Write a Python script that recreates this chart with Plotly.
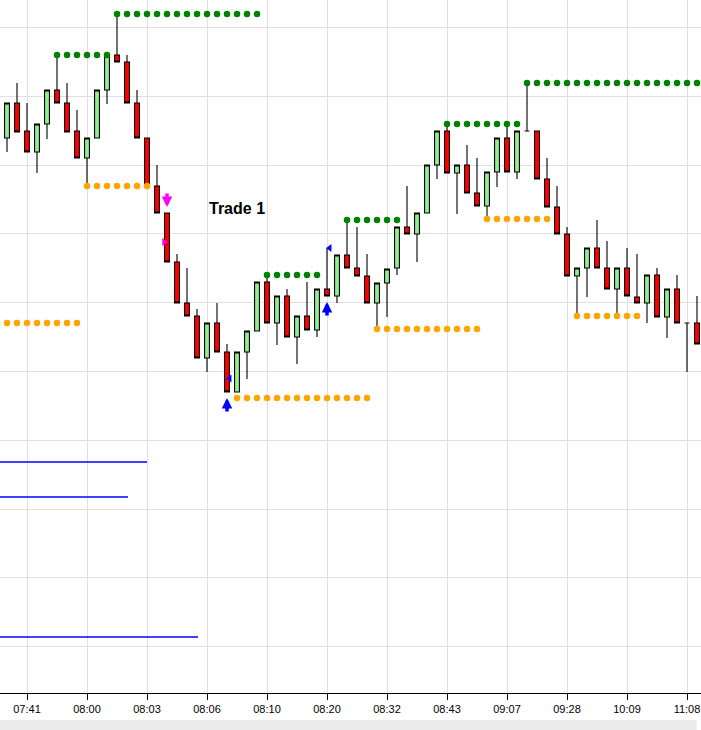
import plotly.graph_objects as go

# candle index -1 is the bar cut off at the left edge
bars = list(range(-1, 70))
opens = [548, 562, 597, 569, 548, 576, 610, 597, 569, 542, 562, 610, 645, 638, 597, 562,
         514, 487, 438, 397, 384, 342, 377, 348, 308, 348, 369, 418, 377, 404, 363, 384,
         370, 411, 404, 445, 432, 424, 397, 417, 432, 473, 466, 487, 535, 569, 527, 535,
         507, 494, 528, 562, 528, 569, 569, 521, 493, 466, 424, 432, 452, 432, 411, 432,
         403, 397, 425, 383, 411, 377, 377]
highs = [562, 597, 617, 597, 576, 610, 645, 617, 590, 562, 610, 645, 686, 645, 610, 562,
         535, 487, 446, 432, 391, 377, 397, 356, 348, 369, 418, 425, 404, 411, 384, 418,
         411, 452, 445, 480, 473, 446, 417, 431, 473, 514, 487, 535, 569, 576, 535, 555,
         542, 528, 562, 576, 569, 617, 569, 542, 514, 473, 432, 452, 480, 459, 432, 452,
         446, 425, 432, 411, 425, 377, 404]
lows = [548, 548, 568, 548, 527, 561, 597, 568, 542, 514, 562, 596, 638, 597, 562, 514,
        487, 438, 397, 384, 342, 328, 348, 308, 308, 321, 369, 377, 355, 363, 336, 370,
        363, 404, 397, 432, 424, 397, 373, 383, 425, 466, 438, 487, 521, 527, 486, 507,
        494, 483, 513, 528, 521, 569, 521, 493, 466, 424, 387, 403, 432, 411, 387, 404,
        397, 377, 383, 362, 377, 328, 356]
closes = [562, 597, 568, 548, 576, 610, 597, 568, 542, 562, 610, 645, 638, 597, 562, 514,
          487, 438, 397, 384, 342, 377, 348, 308, 348, 369, 418, 377, 404, 363, 384, 370,
          411, 404, 445, 432, 424, 397, 417, 431, 473, 466, 487, 535, 569, 527, 535, 507,
          494, 528, 562, 528, 569, 569, 521, 493, 466, 424, 432, 452, 432, 411, 432, 404,
          397, 425, 383, 411, 377, 377, 356]

tick_bars = [2, 8, 14, 20, 26, 32, 38, 44, 50, 56, 62, 68]
tick_labels = ["07:41", "08:00", "08:03", "08:06", "08:10", "08:20",
               "08:32", "08:43", "09:07", "09:28", "10:09", "11:08"]

# resistance / support levels: first bar, last bar, price
res_start = [5, 11, 26, 34, 44, 52]
res_end = [10, 25, 31, 39, 51, 69]
res_price = [645, 686, 425, 480, 576, 617]
sup_start = [-1, 8, 23, 37, 48, 57]
sup_end = [7, 14, 36, 47, 54, 63]
sup_price = [377, 514, 302, 371, 481, 384]

# signals
sell_bars = [16]
sell_entry = [458]
buy_bars = [22, 32]
buy_entry = [321.5, 452]

# blue indicator lines (price, last bar)
blue_price = [238, 203, 63]
blue_end = [14, 12.1, 19.1]

fig = go.Figure()

for p, e in zip(blue_price, blue_end):
    fig.add_trace(go.Scatter(x=[-2, e], y=[p, p], mode="lines",
                             line=dict(color="#0000ff", width=1.3), hoverinfo="skip"))

fig.add_trace(go.Candlestick(
    x=bars, open=opens, high=highs, low=lows, close=closes,
    increasing=dict(fillcolor="#90ee90", line=dict(color="black", width=1.1)),
    decreasing=dict(fillcolor="#ff0000", line=dict(color="black", width=1.1)),
    whiskerwidth=0,
))

def level_dots(starts, ends, prices):
    xs, ys = [], []
    for s, e, p in zip(starts, ends, prices):
        for b in range(s, e + 1):
            xs.append(b)
            ys.append(p)
    return xs, ys

rx, ry = level_dots(res_start, res_end, res_price)
sx, sy = level_dots(sup_start, sup_end, sup_price)
fig.add_trace(go.Scatter(x=rx, y=ry, mode="markers",
                         marker=dict(color="#008000", size=6.5)))
fig.add_trace(go.Scatter(x=sx, y=sy, mode="markers",
                         marker=dict(color="#ffa500", size=6.5)))

fig.add_trace(go.Scatter(x=[b + 0.27 for b in buy_bars], y=buy_entry, mode="markers",
                         marker=dict(color="#0000ff", size=7, symbol="triangle-left")))
fig.add_trace(go.Scatter(x=[b - 0.3 for b in sell_bars], y=sell_entry, mode="markers",
                         marker=dict(color="#ff00ff", size=7, symbol="triangle-right")))

for b in buy_bars:
    fig.add_annotation(x=b, y=lows[b + 1], text="", showarrow=True,
                       ax=0, ay=21, standoff=6, arrowhead=2, arrowsize=0.6,
                       arrowwidth=3.5, arrowcolor="#0000ff")
for b in sell_bars:
    fig.add_annotation(x=b, y=highs[b + 1], text="", showarrow=True,
                       ax=0, ay=-21, standoff=6, arrowhead=2, arrowsize=0.6,
                       arrowwidth=3.5, arrowcolor="#ff00ff")

fig.add_annotation(x=23, y=492, text="<b>Trade 1</b>", showarrow=False,
                   font=dict(family="Liberation Sans, Arial", size=16, color="black"))

# grey strip under the axis labels
fig.add_shape(type="rect", xref="paper", yref="paper", x0=0, x1=0.994,
              y0=-0.0534, y1=-0.039, fillcolor="#ececec", line=dict(width=0))

fig.update_layout(
    width=701, height=730,
    margin=dict(l=0, r=0, t=0, b=37),
    plot_bgcolor="white", paper_bgcolor="white",
    showlegend=False,
    font=dict(family="Liberation Sans, Arial", size=11, color="black"),
    xaxis=dict(range=[-0.7, 69.4], rangeslider=dict(visible=False),
               tickmode="array", tickvals=tick_bars, ticktext=tick_labels,
               showgrid=True, gridcolor="#e0e0e0", gridwidth=1.3,
               showline=True, linecolor="black", linewidth=1.3,
               ticks="outside", ticklen=6, tickcolor="black", zeroline=False),
    yaxis=dict(range=[7, 700], tick0=53.3, dtick=68.8, showticklabels=False,
               showgrid=True, gridcolor="#e0e0e0", gridwidth=1.3, zeroline=False,
               fixedrange=True),
)

fig.write_html("out.html", config=dict(displayModeBar=False),
               post_script="document.body.style.margin='0';document.body.style.overflow='hidden';")
